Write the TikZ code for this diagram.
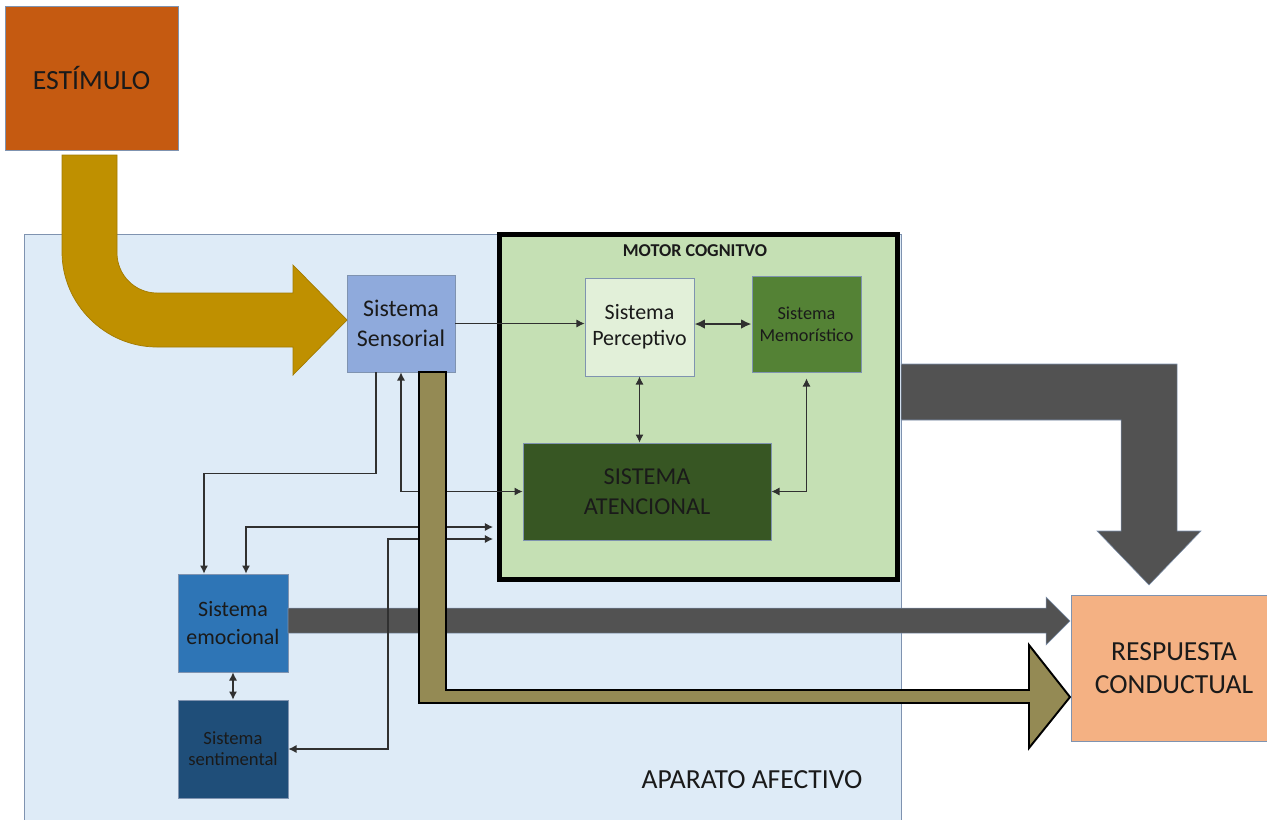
\documentclass[tikz,border=0pt]{standalone}
\usepackage{fontspec}
\setmainfont{Carlito}
\usetikzlibrary{arrows.meta}
\definecolor{estcol}{HTML}{C55A11}
\definecolor{goldcol}{HTML}{BF9000}
\definecolor{afectcol}{HTML}{DEEBF7}
\definecolor{sensecol}{HTML}{8FAADC}
\definecolor{motorcol}{HTML}{C5E0B4}
\definecolor{percol}{HTML}{E2F0D9}
\definecolor{memcol}{HTML}{548235}
\definecolor{atencol}{HTML}{375623}
\definecolor{emocol}{HTML}{2E75B6}
\definecolor{sentcol}{HTML}{1F4E79}
\definecolor{respcol}{HTML}{F4B183}
\definecolor{graycol}{HTML}{525252}
\definecolor{olivecol}{HTML}{948A54}
\definecolor{boxline}{HTML}{7F93B0}
\definecolor{linecol}{HTML}{303030}
\definecolor{txt}{HTML}{1A1A1A}

\begin{document}
\begin{tikzpicture}[x=0.02cm,y=-0.02cm,
	>={Latex[length=4.6pt,width=4.6pt]},
	box/.style={draw=boxline,line width=0.5pt,inner sep=0pt,align=center,text=txt},
	conn/.style={draw=linecol,line width=0.6pt}]
	\useasboundingbox (0,0) rectangle (1267,819);

	% fondo afectivo y motor cognitivo
	\filldraw[fill=afectcol,draw=boxline,line width=0.5pt] (24,234) rectangle (901,830);
	\node[text=txt,font=\fontsize{15.7}{19}\selectfont] (afectlabel) at (752,780) {APARATO AFECTIVO};
	\node[draw=black,line width=2.8pt,fill=motorcol,minimum width=7.96cm,minimum height=6.9cm] (motor) at (698.5,407) {};
	\node[text=txt,font=\bfseries\fontsize{10.3}{12}\selectfont] (motorlabel) at (695,251) {MOTOR COGNITVO};

	% cajas
	\node[box,fill=estcol,minimum width=3.46cm,minimum height=2.88cm,font=\fontsize{15.8}{19}\selectfont] (estimulo) at (91.5,78) {ESTÍMULO};
	\node[box,fill=sensecol,minimum width=2.16cm,minimum height=1.94cm,font=\fontsize{13.6}{17}\selectfont] (sensorial) at (401,323.5) {Sistema\\Sensorial};
	\node[box,fill=percol,minimum width=2.18cm,minimum height=1.96cm,font=\fontsize{12.5}{15}\selectfont] (perceptivo) at (639.5,327) {Sistema\\Perceptivo};
	\node[box,fill=memcol,minimum width=2.18cm,minimum height=1.92cm,font=\fontsize{10.4}{12.7}\selectfont] (memoristico) at (806.5,324) {Sistema\\Memorístico};
	\node[box,fill=atencol,minimum width=4.96cm,minimum height=1.94cm,font=\fontsize{13.8}{16.8}\selectfont] (atencional) at (647,491.5) {SISTEMA\\ATENCIONAL};
	\node[box,fill=emocol,minimum width=2.2cm,minimum height=1.96cm,font=\fontsize{12.5}{15.7}\selectfont] (emocional) at (233,623) {Sistema\\emocional};
	\node[box,fill=sentcol,minimum width=2.2cm,minimum height=1.96cm,font=\fontsize{10.6}{12}\selectfont] (sentimental) at (233,749) {Sistema\\sentimental};
	\node[box,fill=respcol,minimum width=4.12cm,minimum height=2.92cm,font=\fontsize{15.7}{18.9}\selectfont] (respuesta) at (1174,668) {RESPUESTA\\CONDUCTUAL};

	% flecha del estimulo
	\filldraw[fill=goldcol,draw=goldcol!85!black,line width=0.4pt]
		(62,155) -- (117,155) -- (117,253) .. controls (117,275) and (135,293) .. (157,293)
		-- (293,293) -- (293,265) -- (347,320) -- (293,375) -- (293,347) -- (157,347)
		.. controls (105,347) and (62,304) .. (62,252) -- cycle;

	% flechas grises
	\filldraw[fill=graycol,draw=boxline,line width=0.3pt]
		(901,364) -- (1177,364) -- (1177,531) -- (1201,531) -- (1149,585)
		-- (1097,531) -- (1121,531) -- (1121,420) -- (901,420) -- cycle;
	\filldraw[fill=graycol,draw=boxline,line width=0.3pt]
		(288,608) -- (1046,608) -- (1046,597) -- (1070,621) -- (1046,645)
		-- (1046,633) -- (288,633) -- cycle;

	% conexiones
	\coordinate (inA) at (493,527);
	\coordinate (inB) at (493,539);
	\coordinate (kink) at (388,539);
	\draw[conn,->] (sensorial.east) -- (sensorial.east -| perceptivo.west);
	\draw[conn,line width=1.3pt,{Latex[length=6pt,width=5.6pt]}-{Latex[length=6pt,width=5.6pt]}] (memoristico.west -| perceptivo.east) -- (memoristico.west);
	\draw[conn,<->] (perceptivo.south) -- (perceptivo.south |- atencional.north);
	\draw[conn,<->] (atencional.east) -| ([yshift=-0.12cm]memoristico.south);
	\draw[conn,->] ([xshift=-0.5cm]sensorial.south) -- ++(0,101) -| ([xshift=-0.58cm]emocional.north);
	\draw[conn,<->] (sensorial.south) |- (atencional.west);
	\draw[conn,<->] ([xshift=0.26cm]emocional.north) |- (inA);
	\draw[conn,<->] (sentimental.east) -| (kink) -- (inB);
	\draw[conn,<->] (emocional.south) -- (sentimental.north);

	% flecha oliva
	\filldraw[fill=olivecol,draw=black,line width=1.1pt]
		(419,372) -- (446,372) -- (446,690) -- (1029,690) -- (1029,645) -- (1070,697)
		-- (1029,748) -- (1029,703) -- (419,703) -- cycle;
\end{tikzpicture}
\end{document}
